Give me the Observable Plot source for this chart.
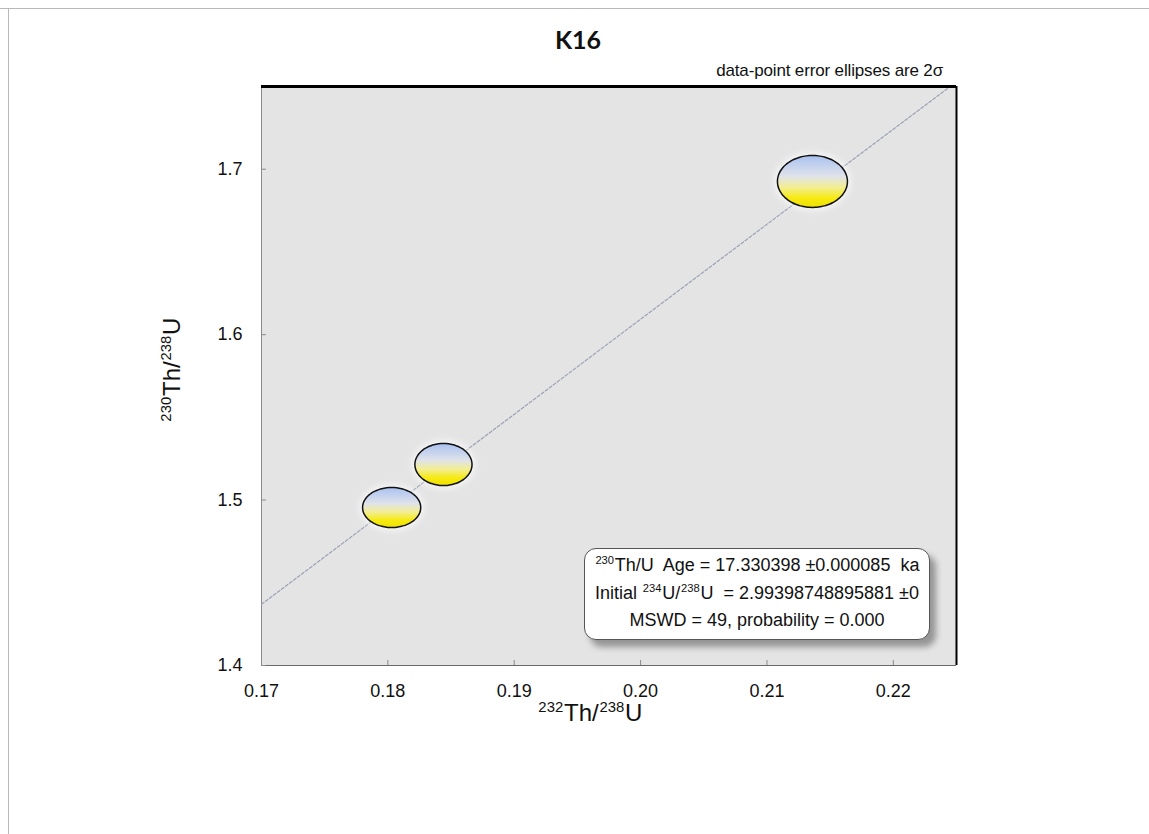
<!DOCTYPE html>
<html>
<head>
<meta charset="utf-8">
<script src="https://cdn.jsdelivr.net/npm/d3@7"></script>
<script src="https://cdn.jsdelivr.net/npm/@observablehq/plot@0.6"></script>
<style>
  html, body { margin: 0; padding: 0; background: #fff; }
  #page { position: relative; width: 1149px; height: 834px; overflow: hidden; font-family: "Liberation Sans", Arial, sans-serif; color: #111; }
  #page svg { position: absolute; left: 0; top: 0; }
  .frameline { position: absolute; background: #b8b8b8; }
  #title { position: absolute; left: 478px; width: 200px; top: 24px; text-align: center; font-family: Lato, "Open Sans", sans-serif; font-weight: 700; font-size: 25px; }
  #note { position: absolute; right: 206px; top: 61px; font-size: 17px; letter-spacing: -0.15px; white-space: nowrap; line-height: 20px; }
  #xlabel { position: absolute; left: 490px; width: 200px; top: 698px; text-align: center; font-size: 24px; white-space: nowrap; line-height: 30px; }
  #ylabel { position: absolute; left: 172px; top: 370px; transform: translate(-50%, -50%) rotate(-90deg); font-size: 24px; white-space: nowrap; line-height: 30px; }
  sup { font-size: 62%; vertical-align: 0.6em; line-height: 0; margin: 0 0.8px; }
  #stats { position: absolute; left: 584px; top: 548px; width: 346px; height: 92px; box-sizing: border-box; background: #fff; border: 1.2px solid #555; border-radius: 12px; box-shadow: 6px 7px 6px rgba(0,0,0,0.35); font-size: 18px; text-align: center; padding-top: 3px; }
  #stats div { height: 27.5px; line-height: 27.5px; white-space: pre; }
</style>
</head>
<body>
<div id="page">
  <div class="frameline" style="left:0;top:8px;width:1149px;height:1px"></div>
  <div class="frameline" style="left:8px;top:8px;width:1px;height:826px"></div>
</div>
<script>
// ---- data ----
const title = "K16";
const sampleX = [0.1803, 0.1844, 0.2136];      // 232Th/238U
const sampleY = [1.4955, 1.5215, 1.6926];      // 230Th/238U
const errX = [0.00230, 0.00226, 0.00277];      // 2-sigma semi-axis, x
const errY = [0.0121, 0.0127, 0.0157];         // 2-sigma semi-axis, y
const isochronX = [0.1700, 0.2245];
const isochronY = [1.4370, 1.7500];
const xDomain = [0.17, 0.225];
const yDomain = [1.4, 1.75];
const xTicks = [0.17, 0.18, 0.19, 0.20, 0.21, 0.22];
const yTicks = [1.4, 1.5, 1.6, 1.7];
const statLines = [
  "<sup>230</sup>Th/U  Age = 17.330398 ±0.000085  ka",
  "Initial <sup>234</sup>U/<sup>238</sup>U  = 2.99398748895881 ±0",
  "MSWD = 49, probability = 0.000"
];

// ellipse outlines (geometry from centre + semi-axes)
const angles = d3.range(0, 360, 5).map(d => d * Math.PI / 180);
const ellipsePts = sampleX.flatMap((cx, i) => angles.map(a => ({
  id: i, x: cx + errX[i] * Math.cos(a), y: sampleY[i] + errY[i] * Math.sin(a)
})));
const isoLine = isochronX.map((x, i) => ({x, y: isochronY[i]}));

const plot = Plot.plot({
  width: 1149,
  height: 834,
  marginLeft: 261,
  marginRight: 193,
  marginTop: 86,
  marginBottom: 169,
  style: {background: "transparent", fontFamily: "Liberation Sans, Arial, sans-serif", fontSize: "18px", color: "#111", overflow: "visible"},
  x: {domain: xDomain},
  y: {domain: yDomain},
  marks: [
    Plot.frame({fill: "#e4e4e4", stroke: null}),
    Plot.ruleX([xDomain[0]], {stroke: "#8a8a8a", strokeWidth: 1}),
    Plot.ruleY([yDomain[0]], {stroke: "#6a6a6a", strokeWidth: 1}),
    Plot.axisX({ticks: xTicks, tickSize: -5, tickFormat: () => "", stroke: "#8a8a8a", label: null}),
    Plot.axisY({ticks: yTicks, tickSize: -5, tickFormat: () => "", stroke: "#8a8a8a", label: null}),
    Plot.axisX({ticks: xTicks, tickSize: 0, tickPadding: 19, tickFormat: d3.format(".2f"), fontSize: 18, label: null}),
    Plot.axisY({ticks: yTicks, tickSize: 0, tickPadding: 19, tickFormat: d3.format(".1f"), fontSize: 18, label: null}),
    Plot.line(isoLine, {x: "x", y: "y", stroke: "#9aa2b4", strokeWidth: 1.2, strokeDasharray: "3,2", clip: true}),
    Plot.line(ellipsePts, {x: "x", y: "y", z: "id", curve: "linear-closed", fill: "white", stroke: "white", strokeWidth: 7, strokeOpacity: 0.55, fillOpacity: 0.5}),
    Plot.line(ellipsePts, {x: "x", y: "y", z: "id", curve: "catmull-rom-closed", fill: "url(#ellGrad)", stroke: "#111", strokeWidth: 1.5}),
    Plot.ruleY([yDomain[1]], {stroke: "#000", strokeWidth: 3}),
    Plot.ruleX([xDomain[1]], {stroke: "#000", strokeWidth: 2})
  ]
});

// gradient for ellipses
const defs = d3.select(plot).insert("defs", ":first-child");
const g = defs.append("linearGradient").attr("id", "ellGrad").attr("x1", 0).attr("y1", 0).attr("x2", 0).attr("y2", 1);
[["0%", "#a9c1f0"], ["40%", "#dfe3ea"], ["62%", "#f3ee90"], ["82%", "#f6ea10"], ["100%", "#efe000"]]
  .forEach(([o, c]) => g.append("stop").attr("offset", o).attr("stop-color", c));
const f = defs.append("filter").attr("id", "halo").attr("x", "-30%").attr("y", "-30%").attr("width", "160%").attr("height", "160%");
f.append("feGaussianBlur").attr("stdDeviation", 3);

const page = document.getElementById("page");
page.appendChild(plot);
const lineGroups = plot.querySelectorAll("g[aria-label='line']");
if (lineGroups.length >= 2) lineGroups[1].setAttribute("filter", "url(#halo)");

function addDiv(id, html) {
  const d = document.createElement("div");
  d.id = id; d.innerHTML = html; page.appendChild(d); return d;
}
addDiv("title", title);
addDiv("note", "data-point error ellipses are 2σ");
addDiv("xlabel", "<sup>232</sup>Th/<sup>238</sup>U");
addDiv("ylabel", "<sup>230</sup>Th/<sup>238</sup>U");
addDiv("stats", statLines.map(s => `<div>${s}</div>`).join(""));
</script>
</body>
</html>
